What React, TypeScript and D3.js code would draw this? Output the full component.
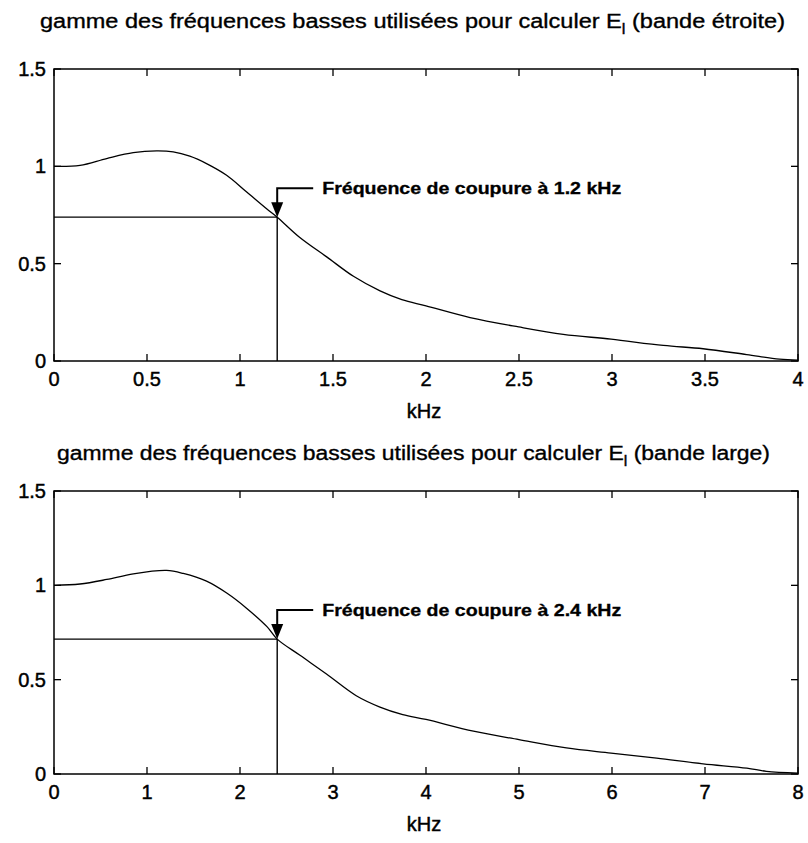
import React from "react";
import * as d3 from "d3";

// Narrow band response (0–4 kHz)
const narrowFreq = [0, 0.14, 0.283, 0.426, 0.552, 0.641, 0.73, 0.82, 0.928, 1.036, 1.143, 1.2, 1.32, 1.466, 1.61, 1.753, 1.87, 2.0, 2.237, 2.498, 2.738, 2.995, 3.276, 3.49, 3.724, 3.9, 4.0];
const narrowGain = [1.0, 1.005, 1.04, 1.07, 1.079, 1.074, 1.052, 1.014, 0.954, 0.868, 0.782, 0.739, 0.636, 0.535, 0.435, 0.36, 0.315, 0.283, 0.223, 0.175, 0.137, 0.112, 0.08, 0.063, 0.033, 0.01, 0.005];

// Wide band response (0–8 kHz)
const wideFreq = [0, 0.28, 0.567, 0.853, 1.21, 1.39, 1.64, 1.857, 2.07, 2.29, 2.4, 2.645, 2.93, 3.25, 3.505, 3.75, 4.0, 4.51, 5.0, 5.51, 5.99, 6.48, 6.98, 7.45, 7.66, 8.0];
const wideGain = [1.0, 1.007, 1.031, 1.061, 1.079, 1.063, 1.022, 0.959, 0.879, 0.781, 0.715, 0.629, 0.53, 0.415, 0.355, 0.315, 0.289, 0.227, 0.182, 0.138, 0.111, 0.084, 0.054, 0.031, 0.014, 0.005];

const narrowTicks = [0, 0.5, 1, 1.5, 2, 2.5, 3, 3.5, 4];
const wideTicks = [0, 1, 2, 3, 4, 5, 6, 7, 8];
const yTicks = [0, 0.5, 1, 1.5];

const narrowCutoff = { freq: 1.2, gain: 0.739, label: "Fréquence de coupure à 1.2 kHz" };
const wideCutoff = { freq: 2.4, gain: 0.715, label: "Fréquence de coupure à 2.4 kHz" };

const narrowTitle = { before: "gamme des fréquences basses utilisées pour calculer E", sub: "l", after: " (bande étroite)" };
const wideTitle = { before: "gamme des fréquences basses utilisées pour calculer E", sub: "l", after: " (bande large)" };

const FONT = "'Liberation Sans', Arial, sans-serif";
const INK = { fill: "#000", stroke: "#000", strokeWidth: 0.45 };

type PanelProps = {
  freq: number[];
  gain: number[];
  xTicks: number[];
  xMax: number;
  cutoff: { freq: number; gain: number; label: string };
  title: { before: string; sub: string; after: string };
  top: number;
  bottom: number;
  titleY: number;
  titleX: number;
  titleLen: number;
};

function Panel(p: PanelProps) {
  const left = 54;
  const right = 798;
  const x = d3.scaleLinear().domain([0, p.xMax]).range([left, right]);
  const y = d3.scaleLinear().domain([0, 1.5]).range([p.bottom, p.top]);
  const pts = p.freq.map((f, i) => [f, p.gain[i]] as [number, number]);
  const line = d3
    .line<[number, number]>()
    .x((d) => x(d[0]))
    .y((d) => y(d[1]))
    .curve(d3.curveCatmullRom.alpha(0.5));
  const tl = 7;
  const cx = x(p.cutoff.freq);
  const cy = y(p.cutoff.gain);
  const armY = cy - 29;
  const yTop = y(1.5);
  const yBot = y(0);
  return (
    <g>
      <text
        x={p.titleX}
        y={p.titleY}
        fontFamily={FONT}
        fontSize={20}
        textLength={p.titleLen}
        lengthAdjust="spacingAndGlyphs"
        {...INK}
        strokeWidth={0.35}
      >
        <tspan>{p.title.before}</tspan>
        <tspan fontSize={14} dy={6}>{p.title.sub}</tspan>
        <tspan dy={-6}>{p.title.after}</tspan>
      </text>
      {/* frame */}
      <rect x={left} y={yTop} width={right - left} height={yBot - yTop} fill="none" stroke="#000" strokeWidth={1.5} />
      {/* x ticks, bottom and top, pointing inward */}
      {p.xTicks.map((t) => (
        <g key={"x" + t}>
          <line x1={x(t)} x2={x(t)} y1={yBot} y2={yBot - tl} stroke="#000" strokeWidth={1.3} />
          <line x1={x(t)} x2={x(t)} y1={yTop} y2={yTop + tl} stroke="#000" strokeWidth={1.3} />
          <text x={x(t)} y={yBot + 25} textAnchor="middle" fontFamily={FONT} fontSize={20} {...INK}>
            {d3.format("~g")(t)}
          </text>
        </g>
      ))}
      {yTicks.map((t) => (
        <g key={"y" + t}>
          <line x1={left} x2={left + tl} y1={y(t)} y2={y(t)} stroke="#000" strokeWidth={1.3} />
          <line x1={right} x2={right - tl} y1={y(t)} y2={y(t)} stroke="#000" strokeWidth={1.3} />
          <text x={46} y={y(t) + 7} textAnchor="end" fontFamily={FONT} fontSize={20} {...INK}>
            {d3.format("~g")(t)}
          </text>
        </g>
      ))}
      <text x={(left + right) / 2 - 2} y={yBot + 57} textAnchor="middle" fontFamily={FONT} fontSize={20} {...INK}>
        kHz
      </text>
      {/* response curve */}
      <path d={line(pts) ?? ""} fill="none" stroke="#000" strokeWidth={1.3} />
      {/* cutoff guides */}
      <line x1={left} x2={cx} y1={cy} y2={cy} stroke="#000" strokeWidth={1.4} />
      <line x1={cx} x2={cx} y1={cy} y2={yBot} stroke="#000" strokeWidth={1.4} />
      {/* callout arrow */}
      <path d={`M${cx + 36},${armY} H${cx} V${cy - 12}`} fill="none" stroke="#000" strokeWidth={2} />
      <path d={`M${cx - 6},${cy - 15} L${cx + 6},${cy - 15} L${cx},${cy} Z`} fill="#000" />
      <text
        x={cx + 45}
        y={armY + 6}
        fontFamily={FONT}
        fontWeight="bold"
        fontSize={16}
        textLength={299}
        lengthAdjust="spacingAndGlyphs"
        {...INK}
        strokeWidth={0.3}
      >
        {p.cutoff.label}
      </text>
    </g>
  );
}

export default function App() {
  return (
    <svg
      width={808}
      height={843}
      viewBox="0 0 808 843"
      style={{ display: "block", position: "absolute", left: 0, top: 0 }}
    >
      <rect width={808} height={843} fill="#fff" />
      <Panel
        freq={narrowFreq}
        gain={narrowGain}
        xTicks={narrowTicks}
        xMax={4}
        cutoff={narrowCutoff}
        title={narrowTitle}
        top={69}
        bottom={361}
        titleY={28}
        titleX={40}
        titleLen={745}
      />
      <Panel
        freq={wideFreq}
        gain={wideGain}
        xTicks={wideTicks}
        xMax={8}
        cutoff={wideCutoff}
        title={wideTitle}
        top={491}
        bottom={774}
        titleY={460}
        titleX={57}
        titleLen={713}
      />
    </svg>
  );
}
